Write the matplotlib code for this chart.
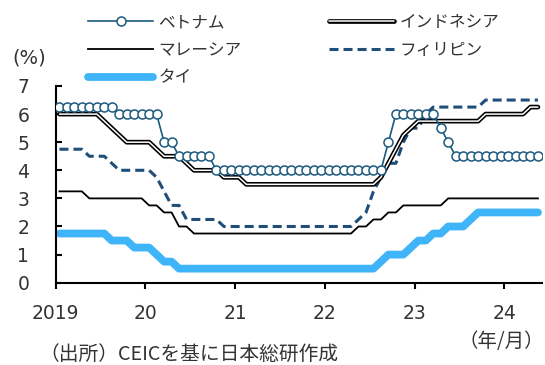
# ASEAN policy rates, monthly, Jan 2019 - May 2024
import matplotlib
matplotlib.use("Agg")
import matplotlib.pyplot as plt
import numpy as np

plt.rcParams['font.family'] = ['DejaVu Sans', 'Noto Sans CJK JP']
plt.rcParams['lines.scale_dashes'] = False
JP = ['Noto Sans CJK JP', 'DejaVu Sans']

# policy rates (%), one value per month
vietnam = ([6.25] * 8 + [6.0] * 6 + [5.0] * 2 + [4.5] * 5 + [4.0] * 23
           + [5.0] + [6.0] * 6 + [5.5, 5.0] + [4.5] * 12)
indonesia = ([6.0] * 6 + [5.75, 5.5, 5.25] + [5.0] * 4 + [4.75] + [4.5] * 3
             + [4.25] + [4.0] * 4 + [3.75] * 3 + [3.5] * 18
             + [3.75, 4.25, 4.75, 5.25, 5.5] + [5.75] * 9 + [6.0] * 6 + [6.25] * 2)
malaysia = ([3.25] * 4 + [3.0] * 8 + [2.75] * 2 + [2.5] * 2 + [2.0] * 2
            + [1.75] * 22 + [2.0] * 2 + [2.25] * 2 + [2.5] * 2 + [2.75] * 6 + [3.0] * 13)
philippines = ([4.75] * 4 + [4.5] * 3 + [4.25] + [4.0] * 5 + [3.75, 3.25] + [2.75] * 2
               + [2.25] * 5 + [2.0] * 18 + [2.25, 2.5, 3.25, 3.75] + [4.25] * 2
               + [5.0, 5.5, 5.5, 6.0] + [6.25] * 7 + [6.5] * 8)
thailand = ([1.75] * 7 + [1.5] * 3 + [1.25] * 3 + [1.0] + [0.75] * 2 + [0.5] * 27
            + [0.75] + [1.0] * 3 + [1.25] + [1.5] * 2 + [1.75] * 2 + [2.0] * 3
            + [2.25] + [2.5] * 9)

year_labels = ['2019', '20', '21', '22', '23', '24']

x = np.arange(len(vietnam)) + 0.5

fig = plt.figure(figsize=(5.45, 3.65), dpi=100)
ax = fig.add_axes([0.1022, 0.2255, 0.8917, 0.5389])

th, = ax.plot(x, thailand, color='#40B4F8', lw=5.6, solid_capstyle='round',
              solid_joinstyle='round', zorder=2)
ph, = ax.plot(x, philippines, color='#1F4E79', lw=2.2, dashes=(6.5, 3.6),
              dash_capstyle='butt', zorder=3)
ml, = ax.plot(x, malaysia, color='black', lw=1.3, zorder=3)
id_out, = ax.plot(x, indonesia, color='black', lw=3.4, solid_capstyle='round', zorder=4)
id_in, = ax.plot(x, indonesia, color='white', lw=1.1, solid_capstyle='round', zorder=4)
vn, = ax.plot(x, vietnam, color='#1B5A7E', lw=1.2, marker='o', ms=6.5,
              mfc='white', mec='#1B5A7E', mew=1.1, zorder=5)

ax.set_xlim(0, len(vietnam))
ax.set_ylim(0, 7)
ax.set_xticks(np.arange(0, 61, 12))
ax.set_xticklabels(year_labels)
ax.set_yticks(range(8))

for s in ['top', 'right']:
    ax.spines[s].set_visible(False)
for s in ['left', 'bottom']:
    ax.spines[s].set_linewidth(1.5)
ax.tick_params(axis='x', direction='out', length=4.5, width=1.5, pad=11,
               labelsize=13.5, colors='black', labelcolor='#333333')
ax.tick_params(axis='y', direction='in', length=4, width=1.5, pad=19,
               labelsize=13.5, labelcolor='#333333')

leg = fig.legend([vn, ml, th, (id_out, id_in), ph],
                 ['ベトナム', 'マレーシア', 'タイ', 'インドネシア', 'フィリピン'],
                 ncol=2, loc='upper left', bbox_to_anchor=(88 / 545, 1 - 14 / 365),
                 frameon=False, borderpad=0, borderaxespad=0, handlelength=3.9,
                 handletextpad=0.3, columnspacing=5.3, labelspacing=0.65,
                 prop={'family': JP, 'size': 12})
for t in leg.get_texts():
    t.set_color('#333333')

fig.text(12 / 545, 1 - 58 / 365, '(%)', family='DejaVu Sans', fontsize=14,
         va='center', ha='left', color='#333333')
fig.text(544 / 545, 1 - 341 / 365, '（年/月）', family=JP, fontsize=14,
         va='center', ha='right', color='#333333')
fig.text(39 / 545, 1 - 354 / 365, '（出所）CEICを基に日本総研作成', family=JP,
         fontsize=14.2, va='center', ha='left', color='#333333')

fig.savefig('out.png', dpi=100)
